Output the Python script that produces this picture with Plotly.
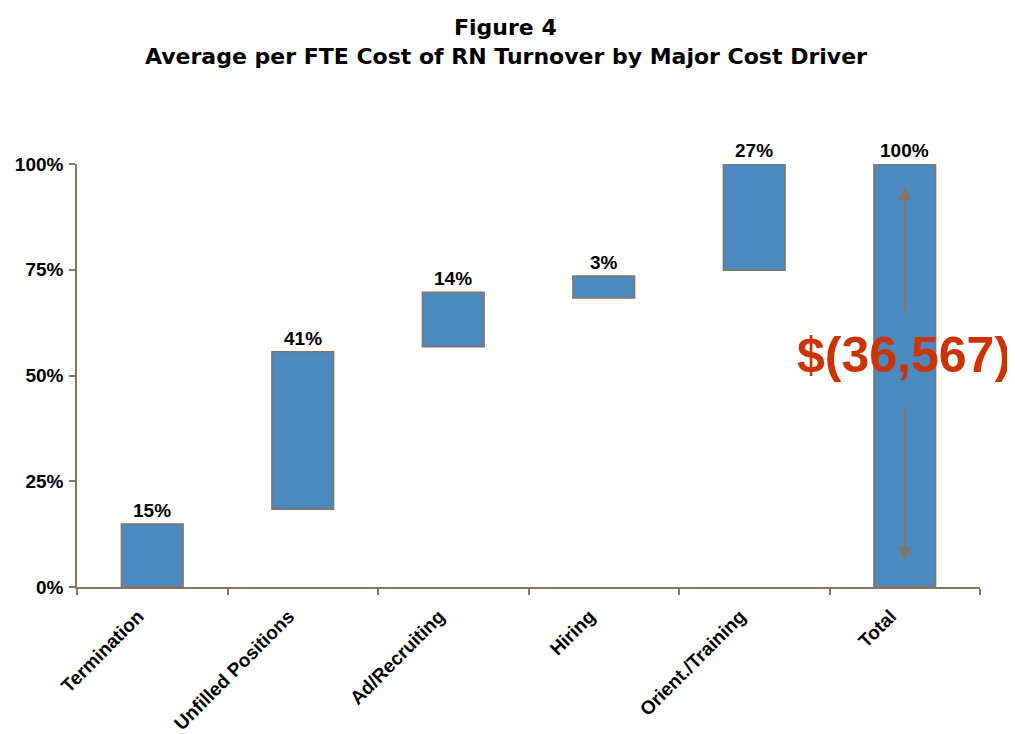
import plotly.graph_objects as go

categories = ["Termination", "Unfilled Positions", "Ad/Recruiting", "Hiring", "Orient./Training", "Total"]
bar_bottom = [0.0, 18.4, 56.8, 68.3, 74.9, 0.0]
bar_top = [14.9, 55.6, 69.7, 73.5, 100.0, 100.0]
labels = ["15%", "41%", "14%", "3%", "27%", "100%"]
y_ticks = [0, 25, 50, 75, 100]
y_tick_text = ["0%", "25%", "50%", "75%", "100%"]
total_value_text = "$(36,567)"
total_value_y = 54.8
arrow_up = (64.8, 94.6)     # line from, arrow tip
arrow_down = (42.8, 6.4)
title_lines = ["Figure 4", "Average per FTE Cost of RN Turnover by Major Cost Driver"]

AXIS = "#857560"
BLUE = "#4b89be"
FONT = "Liberation Sans, Arial"

# page body has an 8px margin; figure is sized so the plot lands where the reference has it
W, H = 1007, 726
ML, MR, MT, MB = 69, 35, 156, 147
PH = H - MT - MB
PW = W - ML - MR

fig = go.Figure()
fig.add_trace(go.Bar(
    x=categories,
    y=[t - b for t, b in zip(bar_top, bar_bottom)],
    base=bar_bottom,
    width=0.41,
    marker=dict(color=BLUE, line=dict(color=AXIS, width=1.5)),
    cliponaxis=False,
    hoverinfo="skip",
))

for c, t, lab in zip(categories, bar_top, labels):
    fig.add_annotation(x=c, y=t, text=lab, showarrow=False, yanchor="bottom", yshift=1,
                       font=dict(family=FONT, size=19, color="black", weight="bold"))

for a in (arrow_up, arrow_down):
    fig.add_annotation(x="Total", y=a[1], ax="Total", ay=a[0], xref="x", yref="y",
                       axref="x", ayref="y", showarrow=True, arrowhead=2, arrowsize=1.3,
                       arrowwidth=2, arrowcolor=AXIS, text="")
fig.add_annotation(x="Total", y=total_value_y, text=total_value_text, showarrow=False,
                   xshift=-1,
                   font=dict(family=FONT, size=50, color="#cc3300", weight="bold"))

# title lines (page y centres 27 and 57)
title_cx = (497.5 - ML) / PW
for line, py in zip(title_lines, (27, 57)):
    fy = py - 8
    fig.add_annotation(xref="paper", yref="paper", x=title_cx, y=(H - MB - fy) / PH,
                       xanchor="center", yanchor="middle", text=line, showarrow=False,
                       font=dict(family="DejaVu Sans", size=22, color="black", weight="bold"))

fig.update_layout(
    width=W, height=H,
    paper_bgcolor="white", plot_bgcolor="white",
    margin=dict(l=ML, r=MR, t=MT, b=MB, autoexpand=False),
    showlegend=False,
    xaxis=dict(
        range=[-0.5, 5.5], automargin=False,
        showline=True, linecolor=AXIS, linewidth=1.5,
        ticks="outside", tickson="boundaries", ticklen=6, tickcolor=AXIS, tickwidth=1.5,
        tickangle=-45, showgrid=False,
        ticklabelshift=-14, ticklabelstandoff=9,
        tickfont=dict(family=FONT, size=19, color="black", weight="bold"),
    ),
    yaxis=dict(
        range=[0, 100], tickvals=y_ticks, ticktext=y_tick_text, automargin=False,
        showline=True, linecolor=AXIS, linewidth=1.5,
        ticks="outside", ticklen=6, tickcolor=AXIS, tickwidth=1.5,
        ticklabelstandoff=2,
        showgrid=False, zeroline=False,
        tickfont=dict(family=FONT, size=19, color="black", weight="bold"),
    ),
)

fig.write_html("out.html")
